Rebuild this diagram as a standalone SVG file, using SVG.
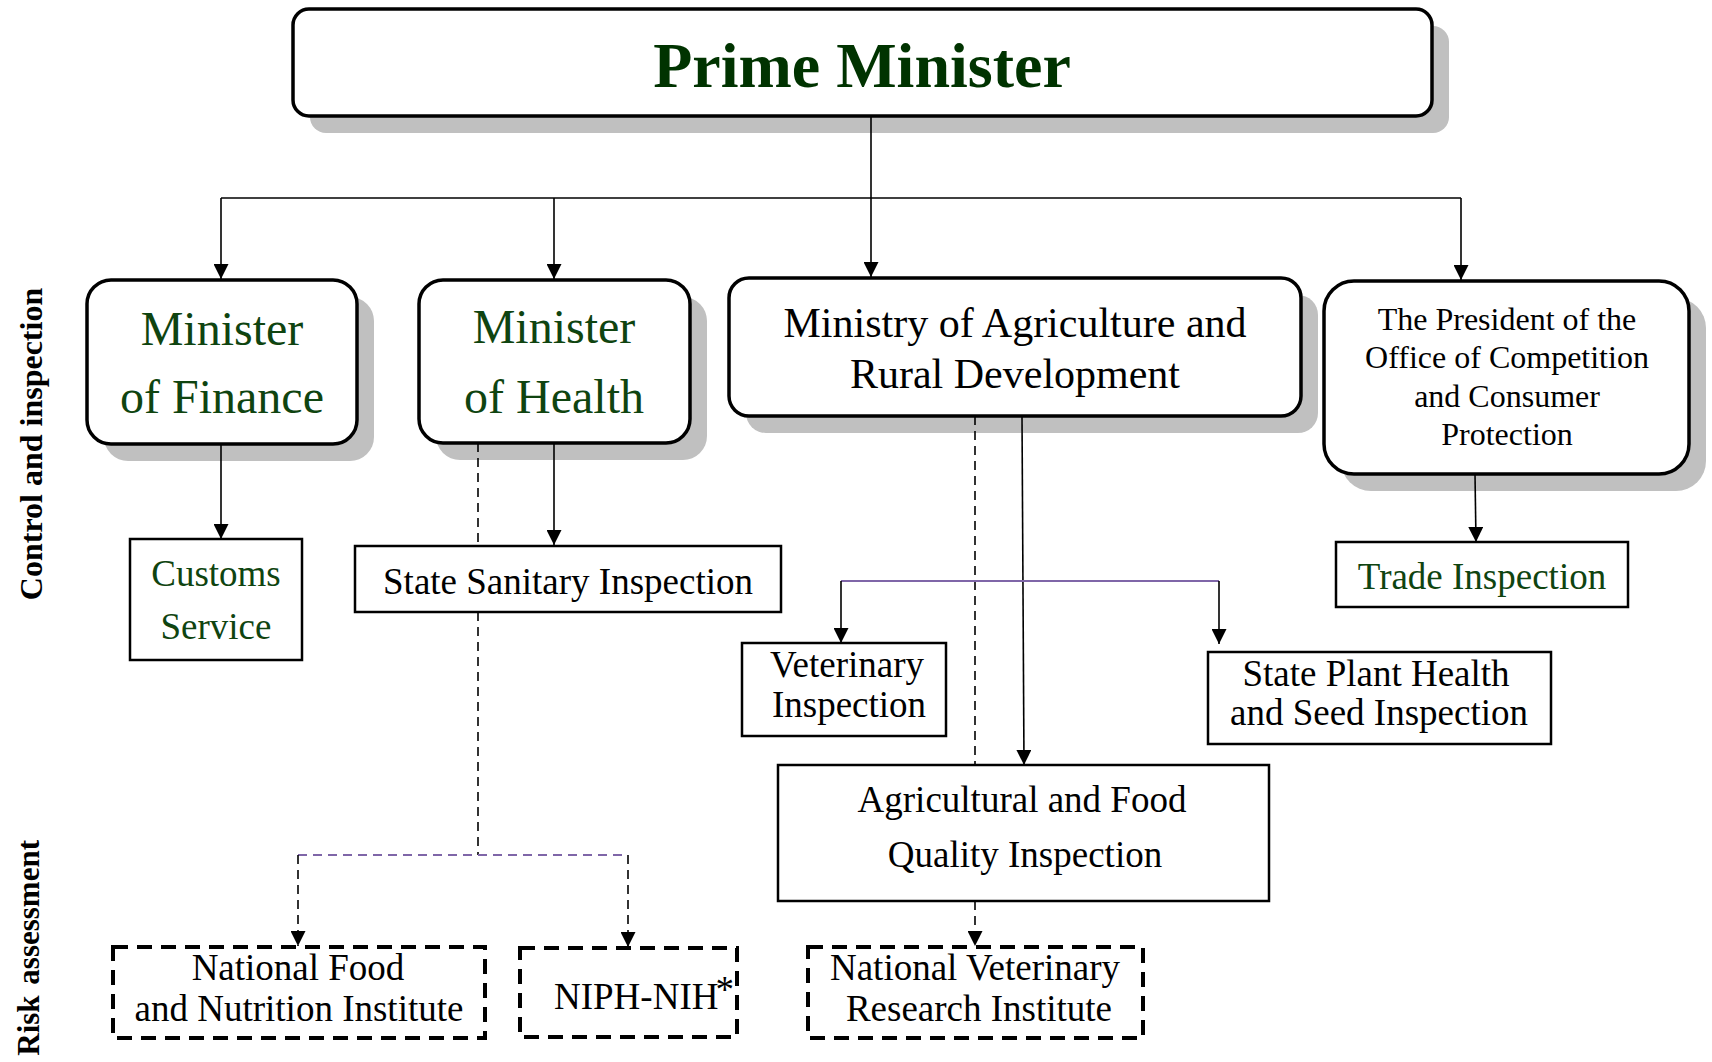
<svg xmlns="http://www.w3.org/2000/svg" width="1712" height="1062" viewBox="0 0 1712 1062">
  <style>
    text { font-family: "Liberation Serif", "Times New Roman", serif; text-anchor: middle; fill: #000; }
    .green { fill: #0f4410; }
    .title { font-size: 64px; font-weight: bold; fill: #003300; }
    .big { font-size: 48px; }
    .mid { font-size: 42px; }
    .std { font-size: 37px; }
    .small { font-size: 32px; }
    .side { font-size: 32px; font-weight: bold; }
    .shadow { fill: #c0c0c0; }
    .rbox { fill: #fff; stroke: #000; stroke-width: 3.5; }
    .box { fill: #fff; stroke: #000; stroke-width: 2.5; }
    .dbox { fill: #fff; stroke: #000; stroke-width: 4; stroke-dasharray: 15 9; }
    .line { fill: none; stroke: #000; stroke-width: 1.6; }
    .dash { fill: none; stroke: #000; stroke-width: 1.6; stroke-dasharray: 9 6; }
    .purple { fill: none; stroke: #7f66a8; stroke-width: 1.8; }
    .pdash { fill: none; stroke: #7f66a8; stroke-width: 1.8; stroke-dasharray: 9 6; }
  </style>
  <defs>
    <marker id="arrow" viewBox="0 0 16 16" refX="16" refY="8" markerWidth="16" markerHeight="15" markerUnits="userSpaceOnUse" orient="auto">
      <path d="M0,0 L16,8 L0,16 z" fill="#000"/>
    </marker>
  </defs>

  <rect width="1712" height="1062" fill="#fff"/>

  <!-- section labels -->
  <text class="side" transform="translate(42,444) rotate(-90)">Control and inspection</text>
  <text class="side" style="text-anchor:end; font-size:31px" word-spacing="3" transform="translate(39,840) rotate(-90)">Risk assessment</text>

  <g id="prime-minister">
    <rect class="shadow" x="310" y="26" width="1139" height="107" rx="16"/>
    <rect class="rbox" x="293" y="9" width="1139" height="107" rx="16"/>
    <text class="title" x="862" y="87">Prime Minister</text>
  </g>

  <g id="minister-finance">
    <rect class="shadow" x="104" y="297" width="270" height="164" rx="24"/>
    <rect class="rbox" x="87" y="280" width="270" height="164" rx="24"/>
    <text class="big green" x="222" y="345">Minister</text>
    <text class="big green" x="222" y="413">of Finance</text>
  </g>

  <g id="minister-health">
    <rect class="shadow" x="436" y="297" width="271" height="163" rx="24"/>
    <rect class="rbox" x="419" y="280" width="271" height="163" rx="24"/>
    <text class="big green" x="554" y="343">Minister</text>
    <text class="big green" x="554" y="413">of Health</text>
  </g>

  <g id="ministry-agriculture">
    <rect class="shadow" x="746" y="295" width="572" height="138" rx="20"/>
    <rect class="rbox" x="729" y="278" width="572" height="138" rx="20"/>
    <text class="mid" x="1015" y="337">Ministry of Agriculture and</text>
    <text class="mid" x="1015" y="388">Rural Development</text>
  </g>

  <g id="president-ocp">
    <rect class="shadow" x="1341" y="298" width="365" height="193" rx="30"/>
    <rect class="rbox" x="1324" y="281" width="365" height="193" rx="30"/>
    <text class="small" x="1507" y="330">The President of the</text>
    <text class="small" x="1507" y="368">Office of Competition</text>
    <text class="small" x="1507" y="407">and Consumer</text>
    <text class="small" x="1507" y="445">Protection</text>
  </g>

  <g id="customs-service">
    <rect class="box" x="130" y="539" width="172" height="121"/>
    <text class="std green" x="216" y="586">Customs</text>
    <text class="std green" x="216" y="639">Service</text>
  </g>

  <g id="state-sanitary-inspection">
    <rect class="box" x="355" y="546" width="426" height="66"/>
    <text class="std" x="568" y="594">State Sanitary Inspection</text>
  </g>

  <g id="trade-inspection">
    <rect class="box" x="1336" y="542" width="292" height="65"/>
    <text class="std green" x="1482" y="589">Trade Inspection</text>
  </g>

  <g id="veterinary-inspection">
    <rect class="box" x="742" y="643" width="204" height="93"/>
    <text class="std" x="847" y="677">Veterinary</text>
    <text class="std" x="849" y="717">Inspection</text>
  </g>

  <g id="plant-health-inspection">
    <rect class="box" x="1208" y="652" width="343" height="92"/>
    <text class="std" x="1376" y="686">State Plant Health</text>
    <text class="std" x="1379" y="725">and Seed Inspection</text>
  </g>

  <g id="food-quality-inspection">
    <rect class="box" x="778" y="765" width="491" height="136"/>
    <text class="std" x="1022" y="812">Agricultural and Food</text>
    <text class="std" x="1025" y="867">Quality Inspection</text>
  </g>

  <g id="food-nutrition-institute">
    <rect class="dbox" x="113" y="947" width="372" height="91"/>
    <text class="std" x="298" y="980">National Food</text>
    <text class="std" x="299" y="1021">and Nutrition Institute</text>
  </g>

  <g id="niph-nih">
    <rect class="dbox" x="520" y="948" width="217" height="89"/>
    <text class="std" style="text-anchor:start" x="554" y="1009">NIPH-NIH<tspan dx="-3" dy="-7">*</tspan></text>
  </g>

  <g id="veterinary-research-institute">
    <rect class="dbox" x="808" y="947" width="335" height="91"/>
    <text class="std" x="975" y="980">National Veterinary</text>
    <text class="std" x="979" y="1021">Research Institute</text>
  </g>

  <!-- connectors, drawn over the drop shadows -->
  <g id="connectors">
    <path class="line" d="M871 116 V277" marker-end="url(#arrow)"/>
    <path class="line" d="M221 198 H1461"/>
    <path class="line" d="M221 198 V279" marker-end="url(#arrow)"/>
    <path class="line" d="M554 198 V279" marker-end="url(#arrow)"/>
    <path class="line" d="M1461 198 V280" marker-end="url(#arrow)"/>

    <path class="line" d="M221 444 V539" marker-end="url(#arrow)"/>
    <path class="line" d="M554 443 V545" marker-end="url(#arrow)"/>
    <path class="line" d="M1475 474 L1476 542" marker-end="url(#arrow)"/>

    <path class="dash" d="M478 443 V546"/>
    <path class="dash" d="M478 612 V855"/>
    <path class="pdash" d="M298 855 H628"/>
    <path class="dash" d="M298 855 V946" marker-end="url(#arrow)"/>
    <path class="dash" d="M628 855 V947" marker-end="url(#arrow)"/>

    <path class="dash" d="M975 416 V765"/>
    <path class="dash" d="M975 901 V946" marker-end="url(#arrow)"/>
    <path class="line" d="M1022 416 L1024 765" marker-end="url(#arrow)"/>
    <path class="purple" d="M841 581 H1219"/>
    <path class="line" d="M841 581 V643" marker-end="url(#arrow)"/>
    <path class="line" d="M1219 581 V644" marker-end="url(#arrow)"/>
  </g>
</svg>
